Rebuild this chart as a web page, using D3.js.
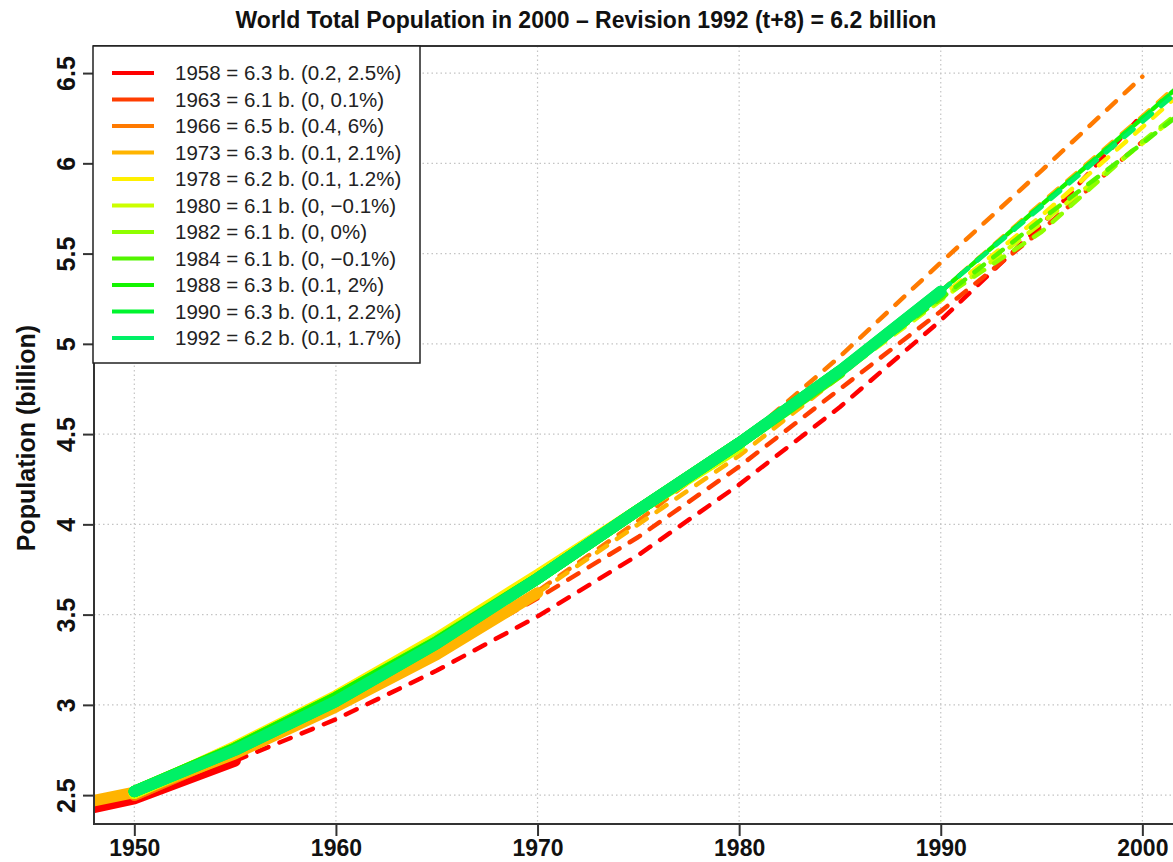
<!DOCTYPE html>
<html>
<head>
<meta charset="utf-8">
<script src="https://cdn.jsdelivr.net/npm/d3@7"></script>
<style>
  html, body { margin: 0; padding: 0; background: #fff; }
  svg { display: block; font-family: "Liberation Sans", Arial, Helvetica, sans-serif; }
</style>
</head>
<body>
<svg id="chart" width="1173" height="862"></svg>
<script>
// ---- data: world population (billion) by revision, 5-year steps ----
const years = [1945, 1950, 1955, 1960, 1965, 1970, 1975, 1980, 1985, 1990, 1995, 2000, 2005];

const pop1958 = [2.36, 2.48, 2.69, 2.92, 3.19, 3.49, 3.83, 4.22, 4.65, 5.13, 5.66, 6.27, null];
const pop1963 = [null, 2.50, 2.74, 3.00, 3.28, 3.59, 3.93, 4.32, 4.75, 5.18, 5.63, 6.12, null];
const pop1966 = [null, 2.50, 2.74, 3.00, 3.30, 3.63, 4.02, 4.45, 4.93, 5.45, 5.96, 6.48, null];
const pop1973 = [2.40, 2.515, 2.73, 2.99, 3.28, 3.62, 4.00, 4.38, 4.82, 5.29, 5.78, 6.26, 6.76];
const pop1978 = [null, 2.51, 2.77, 3.05, 3.37, 3.72, 4.08, 4.44, 4.84, 5.26, 5.71, 6.20, 6.70];
const pop1980 = [null, 2.51, 2.76, 3.04, 3.36, 3.70, 4.08, 4.43, 4.83, 5.24, 5.67, 6.11, 6.56];
const pop1982 = [null, 2.52, 2.76, 3.04, 3.35, 3.70, 4.08, 4.45, 4.84, 5.25, 5.62, 6.12, 6.57];
const pop1984 = [null, 2.52, 2.76, 3.04, 3.35, 3.70, 4.08, 4.45, 4.84, 5.25, 5.69, 6.11, 6.55];
const pop1988 = [null, 2.52, 2.76, 3.04, 3.35, 3.70, 4.08, 4.45, 4.85, 5.29, 5.77, 6.25, 6.74];
const pop1990 = [null, 2.52, 2.75, 3.02, 3.34, 3.70, 4.08, 4.45, 4.85, 5.29, 5.77, 6.25, 6.73];
const pop1992 = [null, 2.52, 2.75, 3.02, 3.34, 3.70, 4.08, 4.45, 4.85, 5.29, 5.76, 6.23, 6.70];

const revisions = [1958, 1963, 1966, 1973, 1978, 1980, 1982, 1984, 1988, 1990, 1992];
// last year of estimates in each revision (projections follow, dashed)
const estimateEnd = [1955, 1960, 1965, 1970, 1975, 1980, 1980, 1985, 1985, 1990, 1990];
const legendLabels = [
  "1958 = 6.3 b. (0.2, 2.5%)",
  "1963 = 6.1 b. (0, 0.1%)",
  "1966 = 6.5 b. (0.4, 6%)",
  "1973 = 6.3 b. (0.1, 2.1%)",
  "1978 = 6.2 b. (0.1, 1.2%)",
  "1980 = 6.1 b. (0, \u22120.1%)",
  "1982 = 6.1 b. (0, 0%)",
  "1984 = 6.1 b. (0, \u22120.1%)",
  "1988 = 6.3 b. (0.1, 2%)",
  "1990 = 6.3 b. (0.1, 2.2%)",
  "1992 = 6.2 b. (0.1, 1.7%)"
];
const xTicks = [1950, 1960, 1970, 1980, 1990, 2000];
const yTicks = [2.5, 3, 3.5, 4, 4.5, 5, 5.5, 6, 6.5];

const titleText = "World Total Population in 2000 \u2013 Revision 1992 (t+8) = 6.2 billion";
const yLabelText = "Population (billion)";

// red -> green hue ramp
const palette = ["#ff0000", "#ff3d00", "#ff7a00", "#ffb400", "#fff000",
                 "#ccff00", "#8fff00", "#52f500", "#14f500", "#00f52e", "#00f066"];

// ---- layout ----
const W = 1173, H = 862;
const plot = { left: 94, top: 46, right: 1223, bottom: 824 };

const x = d3.scaleLinear().domain([1948, 2004]).range([plot.left, plot.right]);
const y = d3.scaleLinear().domain([2.34, 6.65]).range([plot.bottom, plot.top]);

const svg = d3.select("#chart");

svg.append("defs").append("clipPath").attr("id", "plotClip")
  .append("rect")
  .attr("x", plot.left).attr("y", plot.top)
  .attr("width", plot.right - plot.left).attr("height", plot.bottom - plot.top);

// grid
const grid = svg.append("g").attr("stroke", "#c4c4c4").attr("stroke-width", 1.2)
  .attr("stroke-dasharray", "1.5,3");
grid.selectAll("line.v").data(xTicks).join("line").attr("class", "v")
  .attr("x1", d => x(d)).attr("x2", d => x(d))
  .attr("y1", plot.top).attr("y2", plot.bottom);
grid.selectAll("line.h").data(yTicks).join("line").attr("class", "h")
  .attr("x1", plot.left).attr("x2", W)
  .attr("y1", d => y(d)).attr("y2", d => y(d));

// series
const valueRows = [pop1958, pop1963, pop1966, pop1973, pop1978, pop1980,
                   pop1982, pop1984, pop1988, pop1990, pop1992];
const series = revisions.map((rev, i) => {
  const pts = years.map((yr, j) => ({ year: yr, v: valueRows[i][j] })).filter(d => d.v != null);
  return {
    rev, color: palette[i],
    solid: pts.filter(d => d.year <= estimateEnd[i]),
    dashed: pts.filter(d => d.year >= estimateEnd[i])
  };
});

const line = d3.line().x(d => x(d.year)).y(d => y(d.v));
const lines = svg.append("g").attr("clip-path", "url(#plotClip)")
  .attr("fill", "none").attr("stroke-linecap", "round").attr("stroke-linejoin", "round");

series.forEach(s => {
  lines.append("path").datum(s.solid)
    .attr("d", line).attr("stroke", s.color).attr("stroke-width", 11.5);
  lines.append("path").datum(s.dashed)
    .attr("d", line).attr("stroke", s.color).attr("stroke-width", 4.5)
    .attr("stroke-dasharray", "12,12");
});

// box
svg.append("path")
  .attr("d", `M${W},${plot.top}H${plot.left}V${plot.bottom}H${W}`)
  .attr("fill", "none").attr("stroke", "#333").attr("stroke-width", 2);

// x axis
const xAxis = svg.append("g").attr("transform", `translate(0,${plot.bottom})`)
  .call(d3.axisBottom(x).tickValues(xTicks).tickSize(12).tickPadding(4).tickFormat(d3.format("d")));
xAxis.select(".domain").remove();
xAxis.selectAll("line").attr("stroke", "#333").attr("stroke-width", 2);
xAxis.selectAll("text").attr("font-size", 23).attr("font-weight", "bold").attr("fill", "#111")
  .attr("font-family", "Liberation Sans, Arial, sans-serif");

// y axis (labels parallel to the axis)
const yAxis = svg.append("g").attr("transform", `translate(${plot.left},0)`)
  .call(d3.axisLeft(y).tickValues(yTicks).tickSize(11).tickFormat(d => String(d)));
yAxis.select(".domain").remove();
yAxis.selectAll("line").attr("stroke", "#333").attr("stroke-width", 2);
yAxis.selectAll("text")
  .attr("x", 0).attr("dy", 0)
  .attr("transform", "translate(-19,0) rotate(-90)")
  .attr("text-anchor", "middle")
  .attr("font-size", 25).attr("font-weight", "bold").attr("fill", "#111")
  .attr("font-family", "Liberation Sans, Arial, sans-serif");

// axis title
svg.append("text")
  .attr("transform", `translate(35,438) rotate(-90)`)
  .attr("text-anchor", "middle")
  .attr("font-size", 25).attr("font-weight", "bold").attr("fill", "#111")
  .text(yLabelText);

// title
svg.append("text")
  .attr("x", 586).attr("y", 28)
  .attr("text-anchor", "middle")
  .attr("font-size", 23).attr("font-weight", "bold").attr("fill", "#111")
  .text(titleText);

// legend
const legend = svg.append("g");
legend.append("rect")
  .attr("x", 93).attr("y", 46).attr("width", 327).attr("height", 317)
  .attr("fill", "#fff").attr("stroke", "#222").attr("stroke-width", 1.5);
const rows = legend.selectAll("g.row").data(series).join("g").attr("class", "row")
  .attr("transform", (d, i) => `translate(0,${73 + i * 26.5})`);
rows.append("line").attr("x1", 112).attr("x2", 154)
  .attr("stroke", d => d.color).attr("stroke-width", 4);
rows.append("text").attr("x", 175).attr("dy", "0.35em")
  .attr("font-size", 20.5).attr("fill", "#222")
  .text((d, i) => legendLabels[i]);
</script>
</body>
</html>
